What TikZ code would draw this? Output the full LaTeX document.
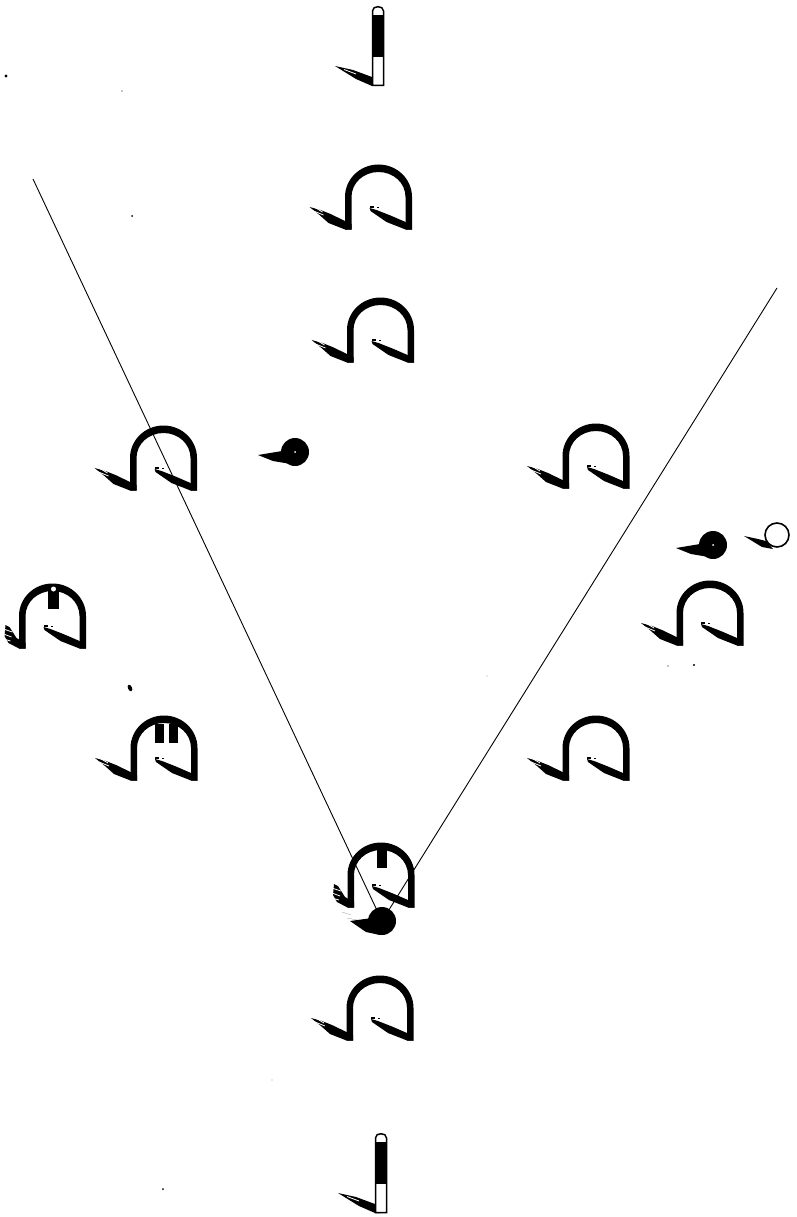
\documentclass[tikz,border=0pt]{standalone}
\newcommand{\hooparch}{%
  \fill[even odd rule] (-33.5,32.5) -- (-33.5,0) .. controls (-33.5,-18) and (-18.5,-32.5) .. (0,-32.5) .. controls (18.5,-32.5) and (33.5,-18) .. (33.5,0) -- (33.5,32.5) -- (27,32.5) -- (27,0) .. controls (27,-14) and (15,-25) .. (0,-25) .. controls (-15,-25) and (-27,-14) .. (-27,0) -- (-27,32.5) -- cycle;
  \fill[shadowfill] (33.5,32.5) -- (27,32.5) -- (8,25) -- (-8,14) -- (-9,11) -- (-2,13) -- (12,18.5) -- (27,25) -- cycle;
  \fill[speck] (-9,9) rectangle (-5,10.5);
  \fill[speck] (-2,9.5) rectangle (0,10.5);
}
\tikzset{
  shadowfill/.style={fill=black,draw=none},
  aimline/.style={draw=black,line width=0.9pt},
  speck/.style={fill=black,draw=none},
  streak/.style={draw=white,line width=0.8pt},
  hoop/.pic={
    \fill[shadowfill] (-27,32.5) -- (-33.5,32.5) -- (-50,26) -- (-59,18) -- (-69,10) -- (-58,13) -- (-48,17) -- (-33.5,24) -- (-27,27) -- cycle;
    \draw[streak] (-70,12) -- (-55,18);
    \draw[streak] (-66,9) -- (-56,15);
    \hooparch
  },
  hoopshort/.pic={
    \fill[shadowfill] (-27,32.5) -- (-33.5,32.5) -- (-44,27) -- (-48,20) -- (-47,9) -- (-43,11) -- (-36,22) -- (-27,27) -- cycle;
    \draw[streak] (-49,13) -- (-40,16);
    \draw[streak] (-49,18) -- (-41,21);
    \draw[streak] (-49,23) -- (-42,25);
    \hooparch
  }
}
\begin{document}
\begin{tikzpicture}[x=1pt,y=-1pt]
\useasboundingbox (0,0) rectangle (797,1217);
% hoops
\pic at (378.5,197) {hoop};
\pic at (380.5,330) {hoop};
\pic at (163.5,458) {hoop};
\pic at (596,456) {hoop};
\pic at (710,613) {hoop};
\pic at (52.5,616) {hoopshort};
\pic at (164,748) {hoop};
\pic at (596,748) {hoop};
\pic at (381,875) {hoopshort};
\pic at (380,1008) {hoop};
% clips in hoops
\fill (48,590) rectangle (59,609);
\fill[white] (53.5,589) circle (2.5);
\fill (155,724) rectangle (163.5,743);
\fill (168.5,724) rectangle (178,743);
\fill (377,848) rectangle (387,868);
% stakes
\coordinate (stakeA) at (378,6);
\coordinate (stakeB) at (381,1133);
\foreach \s in {stakeA,stakeB}{
  \begin{scope}[shift={(\s)}]
  \fill[shadowfill] (0,80) -- (-6,80) -- (-22,73) -- (-43,60) -- (-25,64) -- (-6,71) -- (0,75) -- cycle;
  \draw[white,line width=0.8pt] (-34,63.5) -- (-22,68);
  \draw[black,fill=white,line width=1.5pt] (-5.5,79.5) -- (-5.5,5) .. controls (-5.5,2) and (-3,0.7) .. (0,0.7) .. controls (3,0.7) and (5.5,2) .. (5.5,5) -- (5.5,79.5) -- cycle;
  \fill (-5.5,9) rectangle (5.5,51);
  \end{scope}
}
% balls
\coordinate (ballA) at (295,452);
\coordinate (ballB) at (713,545);
\coordinate (ballC) at (382,921);
\coordinate (ballD) at (777,535);
\coordinate (farL) at (33,179);
\coordinate (farR) at (777,288);
\draw[aimline] (farL) -- (ballC);
\draw[aimline] (farR) -- (ballC);
\foreach \b in {ballA,ballB}{
  \fill (\b) circle (14);
  \fill[shadowfill] ([shift={(-37,3)}]\b) -- ([shift={(-13,-1)}]\b) -- ([shift={(0,13)}]\b) -- ([shift={(-10,11)}]\b) -- ([shift={(-22,9)}]\b) -- cycle;
}
\fill (ballC) circle (14);
\fill[shadowfill] (350,921) -- (372,918) -- (380,935) -- (366,932) -- cycle;
\draw[speck] (342,912) -- (351,915);
\draw[speck] (347,918) -- (362,921);
\draw[speck] (351,921) -- (365,924);
\fill[white] (ballA) circle (1);
\fill[white] (ballB) circle (1);
\fill[shadowfill] (744,536) -- (758,539) -- (766,541) -- (773,549) -- (762,547) -- cycle;
\draw[black,fill=white,line width=1.6pt] (ballD) circle (12);
% specks
\fill (6,76) circle (1.6);
\fill (132,216) circle (1);
\fill (122,91) circle (.6);
\fill[rotate around={25:(130,688)}] (130,688) ellipse (2 and 3.5);
\fill (694,665) circle (1.2);
\fill (668,666) circle (.6);
\fill (163,1189) circle (1);
\fill (272,1080) circle (.4);
\fill (487,676) circle (.4);
\end{tikzpicture}
\end{document}
